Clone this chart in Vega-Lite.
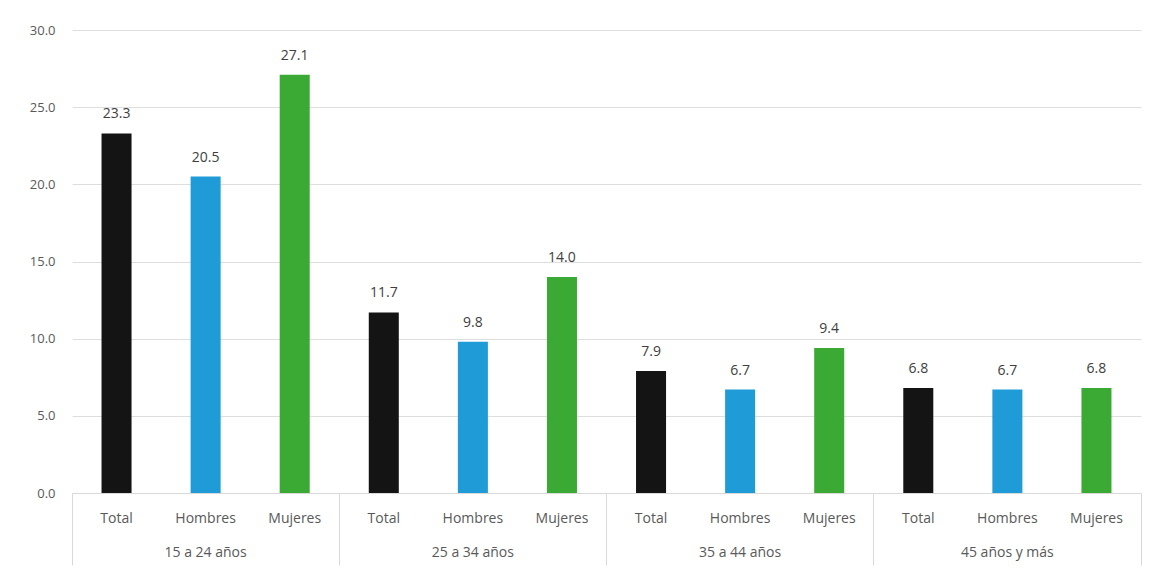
{
  "$schema": "https://vega.github.io/schema/vega-lite/v6.json",
  "width": 1069,
  "height": 463,
  "autosize": {"type": "none"},
  "padding": {"left": 72, "top": 30, "right": 15, "bottom": 79},
  "background": "#ffffff",
  "config": {
    "view": {"stroke": null},
    "font": "Lato",
    "axis": {"labelFont": "Open Sans", "labelColor": "#595959", "labelFontSize": 14}
  },
  "data": {
    "values": [
      {"grupo": "15 a 24 años", "sexo": "Total", "valor": 23.3},
      {"grupo": "15 a 24 años", "sexo": "Hombres", "valor": 20.5},
      {"grupo": "15 a 24 años", "sexo": "Mujeres", "valor": 27.1},
      {"grupo": "25 a 34 años", "sexo": "Total", "valor": 11.7},
      {"grupo": "25 a 34 años", "sexo": "Hombres", "valor": 9.8},
      {"grupo": "25 a 34 años", "sexo": "Mujeres", "valor": 14.0},
      {"grupo": "35 a 44 años", "sexo": "Total", "valor": 7.9},
      {"grupo": "35 a 44 años", "sexo": "Hombres", "valor": 6.7},
      {"grupo": "35 a 44 años", "sexo": "Mujeres", "valor": 9.4},
      {"grupo": "45 años y más", "sexo": "Total", "valor": 6.8},
      {"grupo": "45 años y más", "sexo": "Hombres", "valor": 6.7},
      {"grupo": "45 años y más", "sexo": "Mujeres", "valor": 6.8}
    ]
  },
  "transform": [
    {"calculate": "datum.grupo + '|' + datum.sexo", "as": "clave"}
  ],
  "layer": [
    {
      "encoding": {
        "x": {
          "field": "clave",
          "type": "nominal",
          "sort": null,
          "scale": {"paddingInner": 0.663, "paddingOuter": 0.3315},
          "axis": {
            "title": null,
            "orient": "bottom",
            "labelExpr": "split(datum.value, '|')[1]",
            "labelAngle": 0,
            "ticks": false,
            "labelPadding": 18,
            "domainColor": "#d9d9d9",
            "domainWidth": 1
          }
        },
        "y": {
          "field": "valor",
          "type": "quantitative",
          "scale": {"domain": [0, 30]},
          "axis": {
            "title": null,
            "values": [0, 5, 10, 15, 20, 25, 30],
            "format": ".1f",
            "domain": false,
            "ticks": false,
            "labelPadding": 17,
            "labelFontSize": 13,
            "gridColor": "#dedede",
            "gridWidth": 1
          }
        }
      },
      "layer": [
        {
          "mark": {"type": "bar"},
          "encoding": {
            "color": {
              "field": "sexo",
              "type": "nominal",
              "scale": {
                "domain": ["Total", "Hombres", "Mujeres"],
                "range": ["#141414", "#1f9bd7", "#3aaa35"]
              },
              "legend": null
            }
          }
        },
        {
          "mark": {"type": "text", "baseline": "middle", "dy": -19, "font": "Open Sans", "fontSize": 14, "color": "#404040"},
          "encoding": {
            "text": {"field": "valor", "type": "quantitative", "format": ".1f"}
          }
        }
      ]
    },
    {
      "mark": {"type": "rule", "opacity": 0},
      "encoding": {
        "x": {
          "field": "grupo",
          "type": "nominal",
          "sort": null,
          "scale": {"type": "band", "paddingInner": 0, "paddingOuter": 0},
          "axis": {
            "title": null,
            "orient": "bottom",
            "labelAngle": 0,
            "bandPosition": 1,
            "tickExtra": true,
            "tickSize": 72,
            "tickColor": "#d9d9d9",
            "domain": false,
            "labelPadding": -20
          }
        }
      }
    }
  ],
  "resolve": {"scale": {"x": "independent"}, "axis": {"x": "independent"}}
}
